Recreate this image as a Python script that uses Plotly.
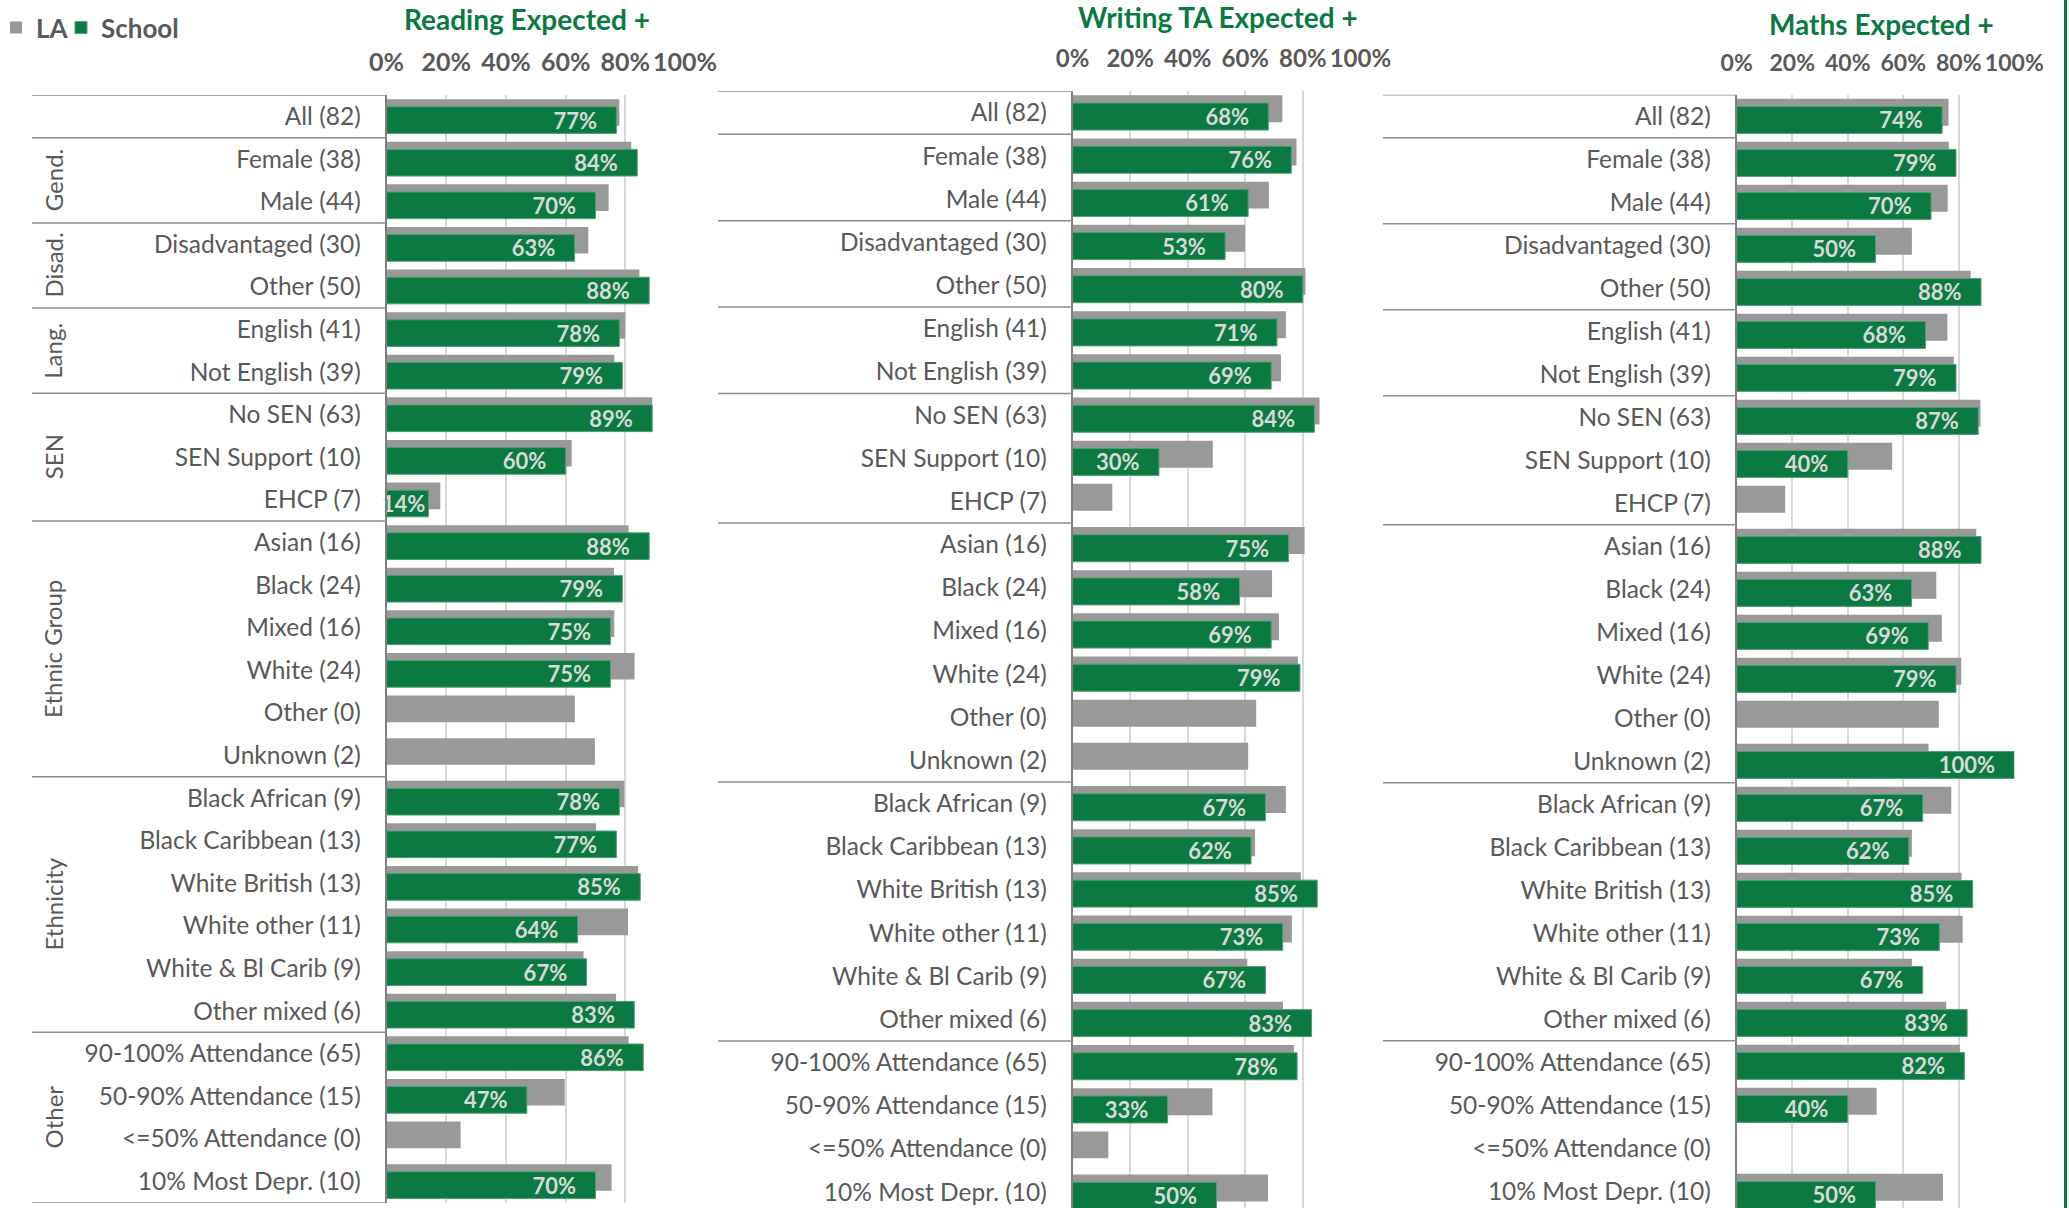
import plotly.graph_objects as go

W, H = 2069, 1208


def px(x):
    return x / W


def py(y):
    return 1 - y / H


categories = [
    "All (82)", "Female (38)", "Male (44)", "Disadvantaged (30)", "Other (50)",
    "English (41)", "Not English (39)", "No SEN (63)", "SEN Support (10)", "EHCP (7)",
    "Asian (16)", "Black (24)", "Mixed (16)", "White (24)", "Other (0)", "Unknown (2)",
    "Black African (9)", "Black Caribbean (13)", "White British (13)", "White other (11)",
    "White & Bl Carib (9)", "Other mixed (6)", "90-100% Attendance (65)",
    "50-90% Attendance (15)", "<=50% Attendance (0)", "10% Most Depr. (10)",
]
group_labels = ["", "Gend.", "Disad.", "Lang.", "SEN", "Ethnic Group", "Ethnicity", "Other"]
group_sizes = [1, 2, 2, 2, 3, 6, 6, 4]
tick_values = [0, 20, 40, 60, 80, 100]
tick_text = ["0%", "20%", "40%", "60%", "80%", "100%"]

reading_la = [78, 82, 74.4, 67.6, 84.7, 80, 76.3, 89, 62, 18, 81.1, 76.2, 76.3, 83.1, 63.1, 69.8,
              79.7, 70.2, 84.3, 80.9, 66, 76.9, 81.1, 59.7, 24.8, 75.4]
reading_school = [77, 84, 70, 63, 88, 78, 79, 89, 60, 14, 88, 79, 75, 75, None, None,
                  78, 77, 85, 64, 67, 83, 86, 47, None, 70]

writing_la = [72.9, 77.8, 68.2, 59.9, 80.9, 74.1, 72.4, 85.8, 48.7, 13.8, 80.6, 69.3, 71.7, 78.3, 63.8, 61,
              74.1, 63.4, 79.3, 76.2, 60.7, 73.1, 76.9, 48.6, 12.4, 67.9]
writing_school = [68, 76, 61, 53, 80, 71, 69, 84, 30, None, 75, 58, 69, 79, None, None,
                  67, 62, 85, 73, 67, 83, 78, 33, None, 50]

maths_la = [76.3, 76.4, 76, 63.1, 84.3, 75.9, 78.2, 87.8, 56, 17.5, 86.3, 71.9, 73.9, 80.9, 72.8, 69.1,
            77.3, 63.1, 81, 81.4, 63.1, 75.5, 80.4, 50.4, None, 74.3]
maths_school = [74, 79, 70, 50, 88, 68, 79, 87, 40, None, 88, 63, 69, 79, None, 100,
                67, 62, 85, 73, 67, 83, 82, 40, None, 50]

GREEN = "#0A7A42"
GREY = "#999999"
TXT = "#595959"
FONT = "Lato, 'Open Sans', sans-serif"

panels = [
    dict(title="Reading Expected +", la=reading_la, school=reading_school,
         x0=386.6, x1=685.0, top=95.1, pitch=42.6, line_x0=32.0, tx=527, ty=19.5, tick_size=25),
    dict(title="Writing TA Expected +", la=writing_la, school=writing_school,
         x0=1072.6, x1=1360.4, top=91.2, pitch=43.17, line_x0=718.0, tx=1217.5, ty=17, tick_size=24),
    dict(title="Maths Expected +", la=maths_la, school=maths_school,
         x0=1736.7, x1=2014.3, top=94.7, pitch=43.0, line_x0=1383.0, tx=1881, ty=24, tick_size=23),
]

n = len(categories)
PAD = "\u2002\u00a0"

fig = go.Figure()
shapes = []
annotations = []

for i, p in enumerate(panels):
    sfx = "" if i == 0 else str(i + 1)
    xa, ya = "x" + sfx, "y" + sfx
    texts = []
    for v in p["school"]:
        if v is None:
            texts.append("")
        elif v >= 20:
            texts.append(f"{v}%" + PAD)
        else:
            texts.append(f"{v}%")
    fig.add_trace(go.Bar(
        y=categories, x=p["la"], orientation="h", name="LA",
        marker=dict(color=GREY, line=dict(width=0)),
        offset=-0.405, width=0.625, xaxis=xa, yaxis=ya,
        showlegend=(i == 0), legend="legend", hoverinfo="x+y",
    ))
    fig.add_trace(go.Bar(
        y=categories, x=p["school"], orientation="h", name="School",
        marker=dict(color=GREEN, line=dict(width=1, color="#4f9f74")),
        offset=-0.225, width=0.625, xaxis=xa, yaxis=ya,
        text=texts, textposition="inside", insidetextanchor="end", textangle=0,
        constraintext="none", cliponaxis=False,
        textfont=dict(family=FONT, size=22, color="#D9D9D9", weight="bold"),
        showlegend=(i == 0), legend="legend2", hoverinfo="x+y",
    ))

    bottom = p["top"] + n * p["pitch"]
    if bottom > H:
        dom_bottom = 0.0
        r_bottom = (n - 0.5) - (bottom - H) / p["pitch"]
    else:
        dom_bottom = 1 - bottom / H
        r_bottom = n - 0.5
    dom_top = py(p["top"])

    xkey = "xaxis" + sfx
    ykey = "yaxis" + sfx
    fig.update_layout(**{
        xkey: dict(
            domain=[px(p["x0"]), px(p["x1"])], anchor=ya, side="top",
            range=[0, 100], tickvals=tick_values, ticktext=tick_text, tickangle=0,
            showgrid=True, gridcolor="#D9D9D9", gridwidth=2, zeroline=False,
            showline=False, ticks="", ticklabelstandoff=18, automargin=False,
            tickfont=dict(family=FONT, size=p["tick_size"], color=TXT, weight="bold"),
            fixedrange=True,
        ),
        ykey: dict(
            domain=[dom_bottom, dom_top], anchor=xa, type="category",
            categoryorder="array", categoryarray=categories,
            range=[r_bottom, -0.5], autorange=False,
            showline=True, linecolor="#7F7F7F", linewidth=2,
            showgrid=False, zeroline=False, ticks="", ticklabelstandoff=19, automargin=False,
            tickfont=dict(family=FONT, size=24.5, color=TXT),
            fixedrange=True,
        ),
    })

    # category table separator lines
    b = 0
    bounds = [0]
    for s in group_sizes:
        b += s
        bounds.append(b)
    for bb in bounds:
        shapes.append(dict(
            type="line", xref="paper", yref=ya,
            x0=px(p["line_x0"]), x1=px(p["x0"]), y0=bb - 0.5, y1=bb - 0.5,
            line=dict(color="#8C8C8C", width=1.5), layer="above",
        ))

    annotations.append(dict(
        text=p["title"], xref="paper", yref="paper",
        x=px(p["tx"]), y=py(p["ty"]), xanchor="center", yanchor="middle",
        showarrow=False, font=dict(family=FONT, size=28, color=GREEN, weight="bold"),
    ))

# group labels on the first panel
start = 0
for lab, s in zip(group_labels, group_sizes):
    if lab:
        annotations.append(dict(
            text=lab, xref="paper", yref="y", x=px(53), y=start + (s - 1) / 2,
            textangle=-90, xanchor="center", yanchor="middle", showarrow=False,
            font=dict(family=FONT, size=24, color=TXT),
        ))
    start += s

# green right border
shapes.append(dict(type="line", xref="paper", yref="paper", x0=px(2065.5), x1=px(2065.5),
                   y0=0, y1=1, line=dict(color=GREEN, width=3)))

legend_style = dict(orientation="h", xanchor="left", yanchor="middle", y=py(27.7),
                    font=dict(family=FONT, size=26, color=TXT, weight="bold"),
                    itemwidth=30, bgcolor="rgba(0,0,0,0)")

fig.update_layout(
    width=W, height=H, margin=dict(l=0, r=0, t=0, b=0, autoexpand=False),
    paper_bgcolor="white", plot_bgcolor="white", barmode="overlay",
    shapes=shapes, annotations=annotations,
    uniformtext=dict(mode="show", minsize=10),
    legend=dict(x=-4 / W, **legend_style),
    legend2=dict(x=61 / W, **legend_style),
    font=dict(family=FONT, color=TXT),
)

fig.write_html(
    "out.html",
    config={"displayModeBar": False},
    post_script="document.body.style.margin='0';document.body.style.overflow='hidden';",
)
